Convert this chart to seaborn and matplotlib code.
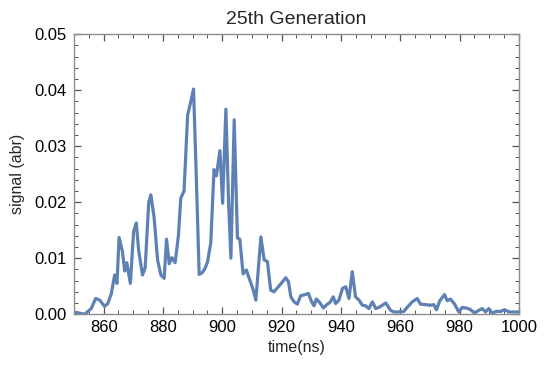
import matplotlib
matplotlib.use("Agg")
import matplotlib.pyplot as plt
from matplotlib.ticker import MultipleLocator, FixedLocator
import seaborn as sns
import pandas as pd

time = [850.0, 850.8, 853.6, 855.8, 857.3, 858.7, 860.3, 861.4, 862.6, 863.7,
        864.5, 865.2, 866.3, 867.1, 867.8, 869.0, 870.1, 871.0, 871.8, 873.1,
        874.0, 875.2, 875.9, 877.0, 878.2, 879.3, 880.4, 881.2, 882.1, 883.0,
        884.1, 885.2, 886.0, 887.1, 888.3, 889.3, 890.3, 891.2, 892.2, 893.2,
        894.1, 895.0, 896.1, 897.2, 898.0, 899.2, 900.1, 901.2, 902.1, 902.9,
        904.0, 905.1, 905.9, 907.0, 908.1, 909.0, 910.2, 911.3, 913.0, 914.1,
        915.2, 916.3, 917.4, 918.9, 920.3, 921.4, 922.3, 923.1, 924.2, 925.3,
        926.4, 927.9, 929.0, 930.1, 930.9, 931.7, 932.8, 934.1, 935.2, 936.3,
        937.4, 938.2, 939.3, 940.5, 941.6, 942.7, 943.8, 944.9, 946.1, 947.2,
        948.3, 949.4, 950.6, 951.7, 953.1, 955.1, 956.7, 957.8, 959.5, 961.2,
        962.3, 964.0, 965.7, 966.8, 968.5, 970.2, 971.3, 972.2, 973.3, 974.9,
        975.8, 976.9, 978.3, 979.7, 980.9, 982.3, 983.7, 985.0, 986.5, 987.6,
        988.7, 989.8, 991.0, 992.4, 993.8, 995.1, 996.6, 998.3, 1000.0]

signal = [0.0004, 0.0003, 0.0000, 0.0010, 0.0028, 0.0025, 0.0014, 0.0019, 0.0037, 0.0070,
          0.0055, 0.0137, 0.0113, 0.0077, 0.0092, 0.0055, 0.0147, 0.0163, 0.0114, 0.0070,
          0.0083, 0.0200, 0.0213, 0.0173, 0.0096, 0.0070, 0.0064, 0.0134, 0.0090, 0.0101,
          0.0092, 0.0140, 0.0207, 0.0220, 0.0355, 0.0378, 0.0402, 0.0250, 0.0071, 0.0074,
          0.0081, 0.0093, 0.0127, 0.0258, 0.0247, 0.0292, 0.0198, 0.0366, 0.0200, 0.0100,
          0.0347, 0.0136, 0.0134, 0.0072, 0.0079, 0.0065, 0.0047, 0.0025, 0.0138, 0.0097,
          0.0094, 0.0043, 0.0040, 0.0049, 0.0058, 0.0065, 0.0058, 0.0031, 0.0022, 0.0018,
          0.0033, 0.0035, 0.0037, 0.0022, 0.0015, 0.0027, 0.0021, 0.0011, 0.0017, 0.0021,
          0.0031, 0.0019, 0.0025, 0.0046, 0.0049, 0.0028, 0.0076, 0.0031, 0.0025, 0.0016,
          0.0015, 0.0010, 0.0022, 0.0010, 0.0013, 0.0020, 0.0007, 0.0004, 0.0004, 0.0005,
          0.0012, 0.0022, 0.0028, 0.0018, 0.0017, 0.0016, 0.0017, 0.0008, 0.0024, 0.0035,
          0.0024, 0.0027, 0.0018, 0.0004, 0.0012, 0.0011, 0.0008, 0.0002, 0.0007, 0.0010,
          0.0004, 0.0010, 0.0002, 0.0005, 0.0005, 0.0008, 0.0004, 0.0004, 0.0004]

x_ticks = [860, 880, 900, 920, 940, 960, 980, 1000]
y_ticks = [0.00, 0.01, 0.02, 0.03, 0.04, 0.05]
y_tick_labels = ["0.00", "0.01", "0.02", "0.03", "0.04", "0.05"]

sns.set_style("ticks")
plt.rcParams["font.family"] = ["Liberation Sans", "DejaVu Sans"]

df = pd.DataFrame({"time": time, "signal": signal})

fig = plt.figure(figsize=(5.44, 3.79), dpi=100)
ax = fig.add_axes([0.136, 0.171, 0.818, 0.739])
sns.lineplot(data=df, x="time", y="signal", ax=ax, color="#5E81B5", linewidth=2.3, sort=False)

ax.set_xlim(850, 1000)
ax.set_ylim(0, 0.05)
ax.xaxis.set_major_locator(FixedLocator(x_ticks))
ax.xaxis.set_minor_locator(MultipleLocator(5))
ax.yaxis.set_major_locator(FixedLocator(y_ticks))
ax.set_yticklabels(y_tick_labels)
ax.yaxis.set_minor_locator(MultipleLocator(0.002))

frame_col = "#8c8c8c"
for s in ax.spines.values():
    s.set_visible(True)
    s.set_color(frame_col)
    s.set_linewidth(1.0)
ax.tick_params(which="both", direction="in", top=True, right=True, color="#555555",
               labelsize=12, labelcolor="black")
ax.tick_params(which="major", length=5, width=0.9, pad=5)
ax.tick_params(which="minor", length=2.8, width=0.7)
ax.tick_params(axis="x", labeltop=False, pad=4)

ax.set_title("25th Generation", fontsize=14, pad=7)
ax.set_xlabel("time(ns)", fontsize=11.5, labelpad=4)
ax.set_ylabel("signal (abr)", fontsize=11.5, labelpad=7)

fig.savefig("out.png", dpi=100)
